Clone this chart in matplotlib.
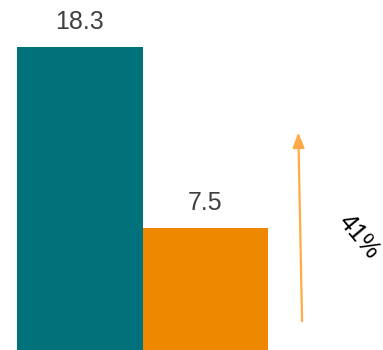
import matplotlib.pyplot as plt

plt.rcParams['font.family'] = ['Liberation Sans', 'DejaVu Sans']

categories = ['A', 'B']
values = [18.3, 7.5]
labels = ['18.3', '7.5']
colors = ['#01717B', '#EE8700']
change_label = '41%'

fig = plt.figure(figsize=(3.83, 3.50), dpi=100)
ax = fig.add_axes([0, 0, 1, 1])

x = list(range(len(categories)))
bars = ax.bar(x, values, width=1.0, color=colors, linewidth=0)

for xi, v, lab in zip(x, values, labels):
    ax.annotate(lab, (xi, v), xytext=(0, 13), textcoords='offset points',
                ha='center', va='baseline', fontsize=18, color='#404040')

# growth arrow
ax.annotate('', xy=(1.74, 13.2), xytext=(1.77, 1.95),
            arrowprops=dict(arrowstyle='-|>,head_length=0.9,head_width=0.35',
                            color='#FFAA44', lw=1.6, shrinkA=0, shrinkB=0))
ax.text(2.22, 7.0, change_label, rotation=-50, ha='center', va='center',
        fontsize=18, color='black', rotation_mode='anchor')

ax.set_xlim(-0.637, 2.415)
ax.set_ylim(0.22, 21.1)
ax.axis('off')

fig.savefig('out.png', dpi=100)
